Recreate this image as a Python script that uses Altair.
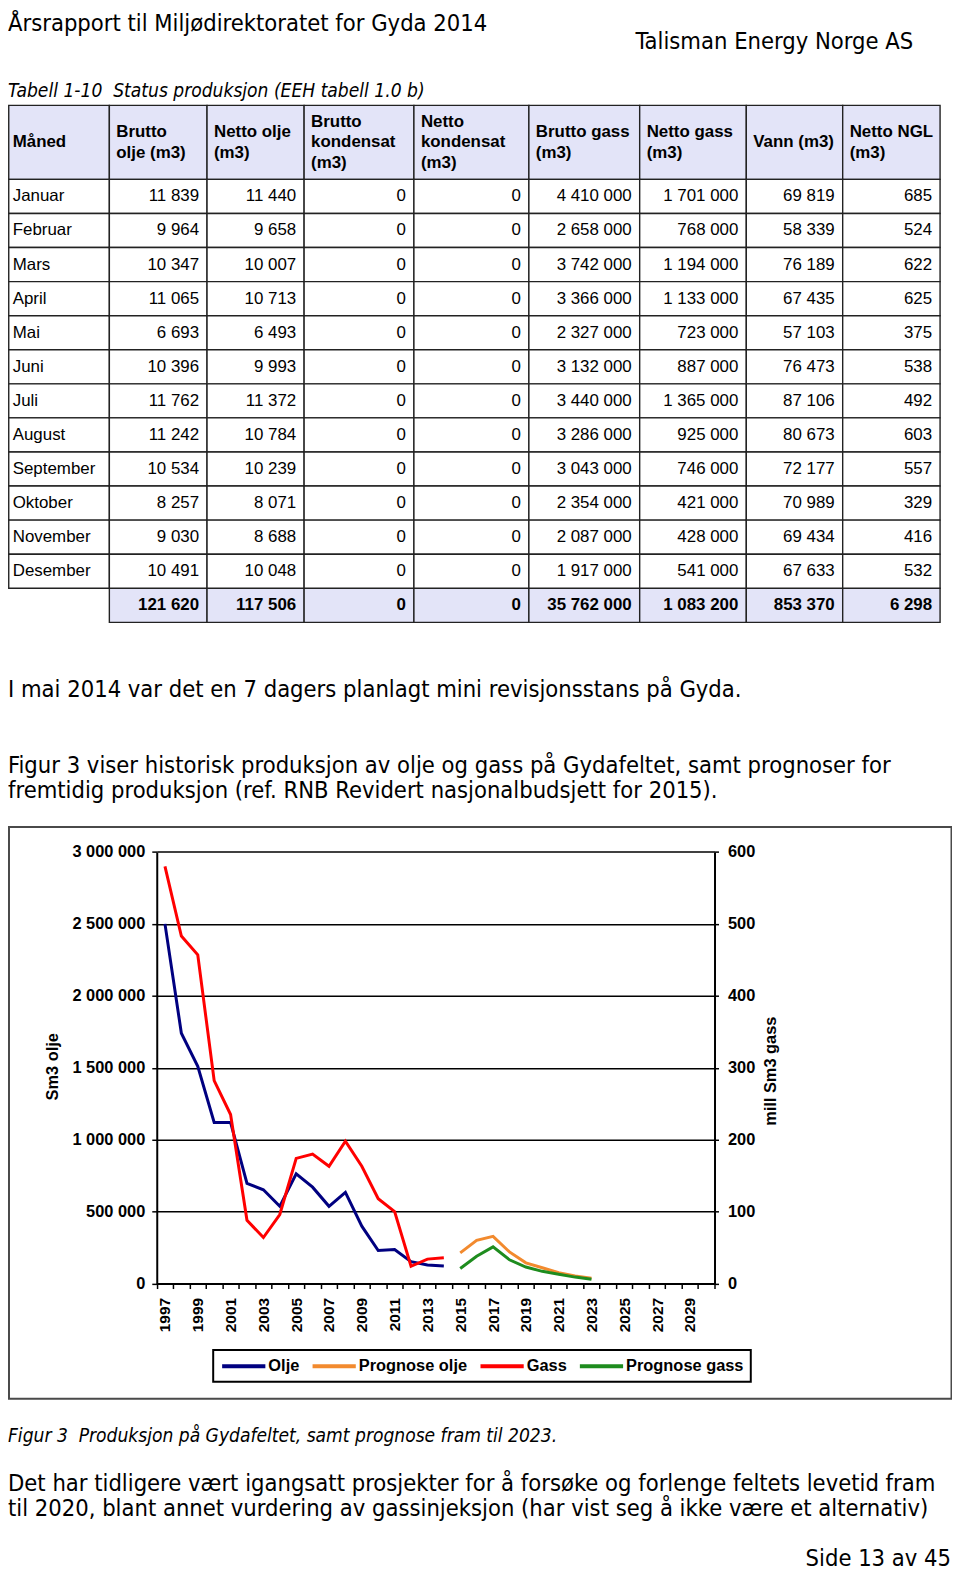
import altair as alt
import pandas as pd

# ---------------- table data ----------------
months = ["Januar", "Februar", "Mars", "April", "Mai", "Juni", "Juli", "August",
          "September", "Oktober", "November", "Desember"]
headers = ["Måned", "Brutto\nolje (m3)", "Netto olje\n(m3)", "Brutto\nkondensat\n(m3)",
           "Netto\nkondensat\n(m3)", "Brutto gass\n(m3)", "Netto gass\n(m3)", "Vann (m3)",
           "Netto NGL\n(m3)"]
brutto_olje = [11839, 9964, 10347, 11065, 6693, 10396, 11762, 11242, 10534, 8257, 9030, 10491]
netto_olje = [11440, 9658, 10007, 10713, 6493, 9993, 11372, 10784, 10239, 8071, 8688, 10048]
brutto_kondensat = [0, 0, 0, 0, 0, 0, 0, 0, 0, 0, 0, 0]
netto_kondensat = [0, 0, 0, 0, 0, 0, 0, 0, 0, 0, 0, 0]
brutto_gass = [4410000, 2658000, 3742000, 3366000, 2327000, 3132000, 3440000, 3286000,
               3043000, 2354000, 2087000, 1917000]
netto_gass = [1701000, 768000, 1194000, 1133000, 723000, 887000, 1365000, 925000,
              746000, 421000, 428000, 541000]
vann = [69819, 58339, 76189, 67435, 57103, 76473, 87106, 80673, 72177, 70989, 69434, 67633]
netto_ngl = [685, 524, 622, 625, 375, 538, 492, 603, 557, 329, 416, 532]
totals = [121620, 117506, 0, 0, 35762000, 1083200, 853370, 6298]

# ---------------- figure data ----------------
years_hist = [1997, 1998, 1999, 2000, 2001, 2002, 2003, 2004, 2005, 2006, 2007, 2008,
              2009, 2010, 2011, 2012, 2013, 2014]
olje = [2500000, 1740000, 1510000, 1120000, 1120000, 696000, 652000, 537000, 763000,
        670000, 537000, 634000, 399000, 230000, 237000, 152000, 129000, 122000]
gass = [580, 483, 457, 282, 235, 88, 64, 96, 174, 180, 163, 198, 163, 118, 100, 24, 34, 36]
years_prog = [2015, 2016, 2017, 2018, 2019, 2020, 2021, 2022, 2023]
prognose_olje = [213000, 300000, 328000, 220000, 144000, 110000, 76000, 53000, 37000]
prognose_gass = [21, 38, 51, 33, 23, 17, 13, 9, 6]
axis_years = list(range(1997, 2031))
series_names = ["Olje", "Prognose olje", "Gass", "Prognose gass"]
series_colors = ["#000080", "#F28A2E", "#FF0000", "#1E8C1E"]
olje_ticks = [0, 500000, 1000000, 1500000, 2000000, 2500000, 3000000]
gass_ticks = [0, 100, 200, 300, 400, 500, 600]

# ---------------- layout (chart pixel coordinates) ----------------
W, H = 950, 1566
PAGE_FONT = "DejaVu Sans Condensed, DejaVu Sans"
TAB_FONT = "Liberation Sans"
BODY = 23.7
SMALL = 19.2
col_edges = [0.75, 102, 200.3, 298, 408.5, 524.2, 635.7, 743, 840, 938]
row_edges = [93, 167.5, 613.3]
PX0, PX1 = 149.7, 711.0
PY0, PY1 = 1278.7, 844.3
HEAD_FILL = "#E3E4F8"
LH = 20.5


def fmt(v):
    return f"{v:,}".replace(",", " ")


def ptext(s, x, y, size=BODY, align="left", style="normal"):
    return alt.Chart(pd.DataFrame({"t": [s]})).mark_text(
        align=align, baseline="middle", font=PAGE_FONT, fontSize=size,
        fontStyle=style, color="black"
    ).encode(text="t:N", x=alt.value(x), y=alt.value(y))


# ---- table frames ----
head_df = pd.DataFrame({"c": list(range(9)), "r": [0] * 9, "label": headers})
head_df["n"] = head_df["label"].str.count("\n") + 1
month_df = pd.DataFrame({"c": [0] * 12, "r": list(range(1, 13)), "label": months})
num_cols = [brutto_olje, netto_olje, brutto_kondensat, netto_kondensat,
            brutto_gass, netto_gass, vann, netto_ngl]
num_rows = []
for j, col in enumerate(num_cols):
    for i, v in enumerate(col):
        num_rows.append({"c": j + 1, "r": i + 1, "label": fmt(v)})
num_df = pd.DataFrame(num_rows)
tot_df = pd.DataFrame({"c": list(range(1, 9)), "r": [13] * 8,
                       "label": [fmt(v) for v in totals]})
shaded_df = pd.concat([head_df[["c", "r", "label"]], tot_df], ignore_index=True)
white_df = pd.concat([month_df, num_df], ignore_index=True)

tx = alt.Scale(type="linear", domain=list(range(10)), range=col_edges, zero=False, nice=False)
ty = alt.Scale(type="linear", domain=[0, 1, 14], range=row_edges, zero=False, nice=False)


def cell_rects(df, fill):
    return alt.Chart(df).transform_calculate(
        c2="datum.c + 1", r2="datum.r + 1"
    ).mark_rect(fill=fill, stroke="#222222", strokeWidth=1.4).encode(
        x=alt.X("c:Q", scale=tx, axis=None), x2="c2:Q",
        y=alt.Y("r:Q", scale=ty, axis=None), y2="r2:Q")


def cell_text(df, left, bold, dx, dy=0, flt=None):
    ch = alt.Chart(df)
    if flt:
        ch = ch.transform_filter(flt)
    ch = ch.transform_calculate(cr="datum.c + 1", rm="datum.r + 0.5")
    mk = ch.mark_text(align="left" if left else "right", baseline="middle",
                      dx=dx, dy=dy, font=TAB_FONT, fontSize=17,
                      fontWeight="bold" if bold else "normal", lineBreak="\n",
                      lineHeight=LH, color="black")
    return mk.encode(x=alt.X("c:Q" if left else "cr:Q", scale=tx, axis=None),
                     y=alt.Y("rm:Q", scale=ty, axis=None), text="label:N")


# ---- figure ----
olje_df = pd.DataFrame({
    "year": years_hist + years_prog,
    "value": olje + prognose_olje,
    "serie": ["Olje"] * len(years_hist) + ["Prognose olje"] * len(years_prog)})
gass_df = pd.DataFrame({
    "year": years_hist + years_prog,
    "value": gass + prognose_gass,
    "serie": ["Gass"] * len(years_hist) + ["Prognose gass"] * len(years_prog)})

xs = alt.Scale(type="band", domain=axis_years, range=[PX0, PX1], paddingInner=0, paddingOuter=0)
color = alt.Color("serie:N", scale=alt.Scale(domain=series_names, range=series_colors),
                  legend=alt.Legend(
                      orient="none", legendX=206.5, legendY=1345.5, direction="horizontal",
                      columns=4, title=None, symbolType="M-1,0L4.8,0", symbolSize=225,
                      symbolStrokeWidth=4, labelFont=TAB_FONT, labelFontWeight="bold",
                      labelFontSize=16.5, labelColor="black", labelOffset=29.5,
                      columnPadding=5, padding=7, strokeColor="black"))

x_axis = alt.Axis(orient="bottom", offset=PY0 - H, tickBand="extent", labelAngle=270,
                  labelAlign="right", labelBaseline="middle", labelOverlap=False,
                  labelExpr="datum.value % 2 == 1 ? datum.label : ''",
                  labelFont=TAB_FONT, labelFontWeight="bold", labelFontSize=15.5,
                  labelColor="black", labelPadding=9, tickSize=5, tickColor="black",
                  tickWidth=1.5, domainColor="black", domainWidth=2, grid=False, title=None)

left_axis = alt.Axis(orient="left", offset=-PX0, values=olje_ticks,
                     labelExpr="replace(format(datum.value, ','), regexp(',', 'g'), ' ')",
                     labelFont=TAB_FONT, labelFontWeight="bold", labelFontSize=16.5,
                     labelColor="black", labelPadding=7, tickSize=5, tickColor="black",
                     tickWidth=1.5, domainColor="black", domainWidth=2,
                     grid=True, gridColor="black", gridWidth=1.5,
                     title="Sm3 olje", titleFont=TAB_FONT, titleFontWeight="bold",
                     titleFontSize=16.5, titleColor="black", titleAngle=270,
                     titleAlign="center", titleBaseline="middle",
                     titleX=53.3 - 157.7, titleY=1068 - 8)

right_axis = alt.Axis(orient="right", offset=PX1 - W, values=gass_ticks,
                      labelFont=TAB_FONT, labelFontWeight="bold", labelFontSize=16.5,
                      labelColor="black", labelPadding=9, tickSize=4, tickColor="black",
                      tickWidth=1.5, domainColor="black", domainWidth=2, grid=False,
                      title="mill Sm3 gass", titleFont=TAB_FONT, titleFontWeight="bold",
                      titleFontSize=16.5, titleColor="black", titleAngle=270,
                      titleAlign="center", titleBaseline="middle",
                      titleX=56, titleY=1072.5 - 8)

olje_layer = alt.Chart(olje_df).mark_line(strokeWidth=3).encode(
    x=alt.X("year:O", scale=xs, bandPosition=0.5, axis=x_axis),
    y=alt.Y("value:Q", scale=alt.Scale(domain=[0, 3000000], range=[PY0, PY1], nice=False, zero=True),
            axis=left_axis),
    color=color)

gass_layer = alt.Chart(gass_df).mark_line(strokeWidth=3).encode(
    x=alt.X("year:O", scale=xs, bandPosition=0.5, axis=None),
    y=alt.Y("value:Q", scale=alt.Scale(domain=[0, 600], range=[PY0, PY1], nice=False, zero=True),
            axis=right_axis),
    color=color)

fig_box = alt.Chart(pd.DataFrame({"a": [0]})).mark_rect(
    fill="white", fillOpacity=0, stroke="#4a4a4a", strokeWidth=2
).encode(x=alt.value(1), x2=alt.value(949.5), y=alt.value(819.3), y2=alt.value(1394.7))

NB = "\u00a0"
layers = [
    ptext("Årsrapport til Miljødirektoratet for Gyda 2014", 0, 11.5),
    ptext("Talisman Energy Norge AS", 911, 29.5, align="right"),
    ptext("Tabell 1-10" + NB + " Status produksjon (EEH tabell 1.0 b)", 0, 79, size=SMALL, style="italic"),
    cell_rects(shaded_df, HEAD_FILL),
    cell_rects(white_df, "white"),
    cell_text(head_df, True, True, 4, 0, "datum.c == 0"),
    cell_text(head_df, True, True, 7, 0, "datum.c > 0 && datum.n == 1"),
    cell_text(head_df, True, True, 7, -LH / 2, "datum.n == 2"),
    cell_text(head_df, True, True, 7, -LH, "datum.n == 3"),
    cell_text(month_df, True, False, 4),
    cell_text(num_df, False, False, -8),
    cell_text(tot_df, False, True, -8),
    ptext("I mai 2014 var det en 7 dagers planlagt mini revisjonsstans på Gyda.", 0, 681.3),
    ptext("Figur 3 viser historisk produksjon av olje og gass på Gydafeltet, samt prognoser for", 0, 757.5),
    ptext("fremtidig produksjon (ref. RNB Revidert nasjonalbudsjett for 2015).", 0, 783),
    fig_box,
    olje_layer,
    gass_layer,
    ptext("Figur 3" + NB + " Produksjon på Gydafeltet, samt prognose fram til 2023.", 0, 1432, size=SMALL, style="italic"),
    ptext("Det har tidligere vært igangsatt prosjekter for å forsøke og forlenge feltets levetid fram", 0, 1480),
    ptext("til 2020, blant annet vurdering av gassinjeksjon (har vist seg å ikke være et alternativ)", 0, 1505.5),
    ptext("Side 13 av 45", 949, 1556, align="right"),
]

chart = alt.layer(*layers).resolve_scale(
    x="independent", y="independent"
).properties(
    width=W, height=H, padding=0, background="white",
    autosize=alt.AutoSizeParams(type="none")
).configure_view(stroke=None).configure_legend(strokeWidth=2)

chart.save("out.html", embed_options={"renderer": "svg", "actions": False})
